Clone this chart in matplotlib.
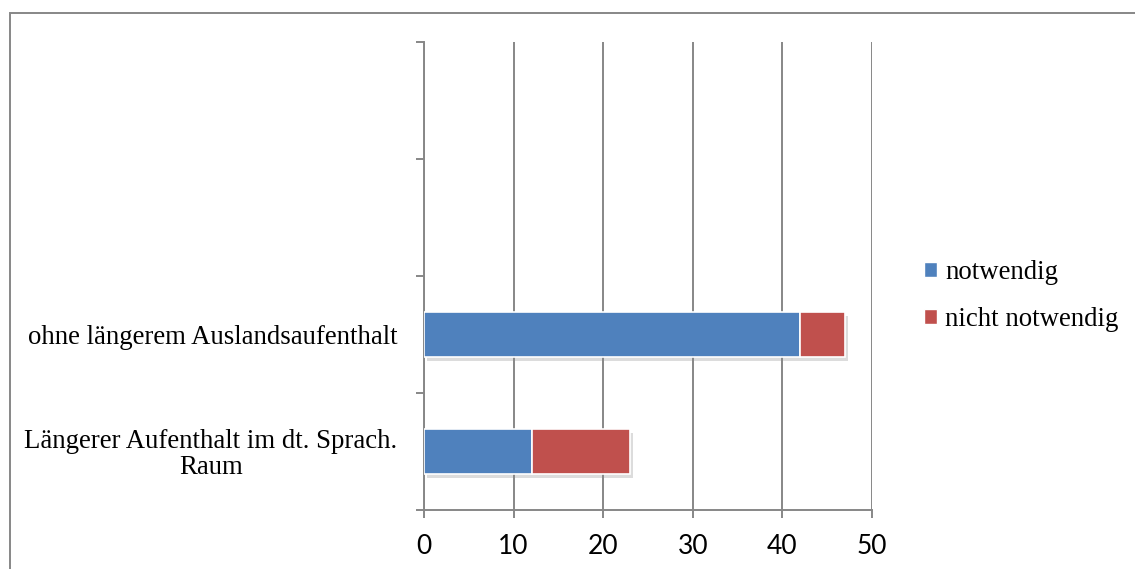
import matplotlib.pyplot as plt
import matplotlib.patheffects as pe
from matplotlib.patches import Patch, Rectangle
import numpy as np

# categories from bottom to top (the two upper slots are empty)
categories = ['Längerer Aufenthalt im dt. Sprach.\nRaum',
              'ohne längerem Auslandsaufenthalt', '', '']
notwendig = [12, 42, 0, 0]
nicht_notwendig = [11, 5, 0, 0]
series_names = ['notwendig', 'nicht notwendig']
colors = ['#4F81BD', '#C0504D']
x_ticks = [0, 10, 20, 30, 40, 50]

serif = 'Liberation Serif'
sans = 'Lato'
grey = '#878787'

fig = plt.figure(figsize=(11.35, 5.69), dpi=100)
ax = fig.add_axes([424 / 1135, 1 - 510 / 569, 448 / 1135, 468 / 569])

y = np.arange(len(categories))
shadow = [pe.SimplePatchShadow(offset=(2, -3), shadow_rgbFace='#8c8c8c', alpha=0.3),
          pe.Normal()]
b1 = ax.barh(y, notwendig, height=0.385, color=colors[0], edgecolor='white',
             linewidth=1.2, zorder=3)
b2 = ax.barh(y, nicht_notwendig, left=notwendig, height=0.385, color=colors[1],
             edgecolor='white', linewidth=1.2, zorder=3)
for bar in list(b1) + list(b2):
    if bar.get_width() > 0:
        bar.set_path_effects(shadow)
    else:
        bar.set_visible(False)

ax.set_xlim(0, 50)
ax.set_ylim(-0.5, len(categories) - 0.5)
ax.set_xticks(x_ticks)
ax.set_xticklabels([str(t) for t in x_ticks], fontfamily=sans, fontsize=19)
ax.xaxis.grid(True, color=grey, linewidth=1.4, zorder=0)
ax.set_axisbelow(True)

# category boundaries get the tick marks, centres get the labels
ax.set_yticks(np.arange(-0.5, len(categories), 1.0))
ax.set_yticklabels([])
ax.set_yticks(y, minor=True)
ax.set_yticklabels(categories, minor=True, fontfamily=serif, fontsize=19.3)
for lab in ax.get_yticklabels(minor=True):
    lab.set_multialignment('center')
    lab.set_linespacing(1.0)
ax.tick_params(axis='y', which='minor', length=0, pad=19)
ax.tick_params(axis='y', which='major', length=6, width=1.4, color=grey)
ax.tick_params(axis='x', length=6, width=1.4, color=grey, pad=11)

for side in ['top', 'right']:
    ax.spines[side].set_visible(False)
for side in ['left', 'bottom']:
    ax.spines[side].set_color(grey)
    ax.spines[side].set_linewidth(1.4)

handles = [Patch(facecolor=c, edgecolor='white') for c in colors]
fig.legend(handles, series_names, loc='center left',
           bbox_to_anchor=(900 / 1135, 1 - 296 / 569), frameon=False,
           prop={'family': serif, 'size': 19.3}, handlelength=0.48,
           handleheight=0.48, handletextpad=0.3, labelspacing=0.8)

# chart area border
fig.patches.append(Rectangle((9.5 / 1135, -0.1), 1.2, 1 - 13.5 / 569 + 0.1,
                             transform=fig.transFigure, fill=False,
                             edgecolor=grey, linewidth=1.4))

fig.savefig('out.png', dpi=100)
